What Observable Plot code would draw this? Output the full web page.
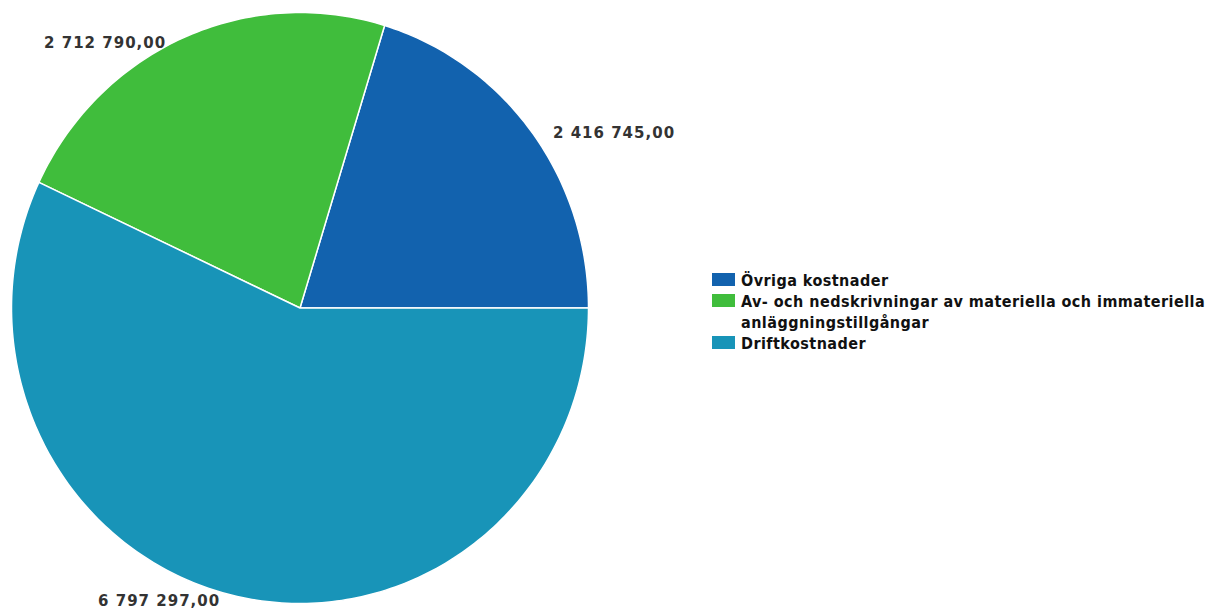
<!DOCTYPE html>
<html>
<head>
<meta charset="utf-8">
<script src="https://cdn.jsdelivr.net/npm/d3@7"></script>
<script src="https://cdn.jsdelivr.net/npm/@observablehq/plot@0.6"></script>
<style>
  html, body { margin: 0; padding: 0; background: #fff; }
  #wrap { position: relative; width: 1206px; height: 615px; }
  #legend { position: absolute; left: 712px; top: 270px; font-family: "DejaVu Sans Condensed", "DejaVu Sans", sans-serif; font-weight: bold; font-size: 16px; letter-spacing: 0.45px; color: #111; line-height: 21px; }
  .item { display: flex; align-items: flex-start; }
  .sw { width: 23px; height: 13px; margin-top: 3px; margin-right: 6px; flex: none; }
  .lbl { width: 475px; }
</style>
</head>
<body>
<div id="wrap"><div id="chart"></div><div id="legend"></div></div>
<script>
const categories = ["Övriga kostnader", "Av- och nedskrivningar av materiella och immateriella anläggningstillgångar", "Driftkostnader"];
const values = [2416745.00, 2712790.00, 6797297.00];
const valueLabels = ["2 416 745,00", "2 712 790,00", "6 797 297,00"];
const colors = ["#1262ae", "#40bd3c", "#1894b8"];

// Slices go counter-clockwise starting at 3 o'clock
const total = d3.sum(values);
let acc = 0;
const slices = values.map((v, i) => {
  const a0 = acc / total * 2 * Math.PI;
  acc += v;
  const a1 = acc / total * 2 * Math.PI;
  return {i, cat: categories[i], v, a0, a1};
});

const polyPts = [];
for (const s of slices) {
  const n = Math.max(2, Math.ceil((s.a1 - s.a0) / (Math.PI / 180)));
  polyPts.push({cat: s.cat, x: 0, y: 0});
  for (let k = 0; k <= n; k++) {
    const a = s.a0 + (s.a1 - s.a0) * k / n;
    polyPts.push({cat: s.cat, x: Math.cos(a), y: Math.sin(a)});
  }
  polyPts.push({cat: s.cat, x: 0, y: 0});
}

const R = 1.0;
const labelPts = slices.map(s => {
  const m = (s.a0 + s.a1) / 2;
  return {x: R * Math.cos(m), y: R * Math.sin(m), text: valueLabels[s.i], right: Math.cos(m) >= 0};
});

const chart = Plot.plot({
  width: 1206,
  height: 615,
  margin: 0,
  x: {domain: [-1, 1], range: [11, 588], axis: null},
  y: {domain: [-1, 1], range: [603, 12], axis: null},
  color: {domain: categories, range: colors},
  style: {background: "#fff", letterSpacing: "1px"},
  marks: [
    Plot.line(polyPts, {x: "x", y: "y", z: "cat", fill: "cat", stroke: "#fff", strokeWidth: 1.5, strokeLinejoin: "round", curve: "linear"}),
    Plot.text(labelPts.filter(d => d.right), {x: "x", y: "y", text: "text", textAnchor: "start", dx: 21, dy: 1, fontSize: 15, fontWeight: "bold", fill: "#333", fontFamily: "DejaVu Sans"}),
    Plot.text(labelPts.filter(d => !d.right), {x: "x", y: "y", text: "text", textAnchor: "end", dx: -17, dy: 5, fontSize: 15, fontWeight: "bold", fill: "#333", fontFamily: "DejaVu Sans"})
  ]
});
document.getElementById("chart").appendChild(chart);

const leg = document.getElementById("legend");
categories.forEach((c, i) => {
  const it = document.createElement("div");
  it.className = "item";
  it.innerHTML = `<div class="sw" style="background:${colors[i]}"></div><div class="lbl">${c}</div>`;
  leg.appendChild(it);
});
</script>
</body>
</html>
